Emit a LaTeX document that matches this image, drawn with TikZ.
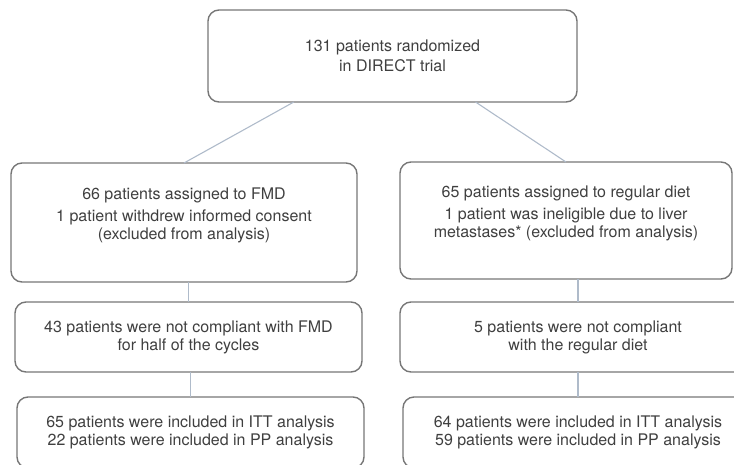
\documentclass[tikz,border=0pt]{standalone}
\usepackage{fontspec}
\setmainfont{TeX Gyre Heros}
\usepackage{xcolor}
\usetikzlibrary{positioning}

\definecolor{boxgray}{HTML}{767676}
\definecolor{textgray}{HTML}{3F3F3F}
\definecolor{linkblue}{HTML}{AFBBCA}

\begin{document}
\begin{tikzpicture}
[
x=1pt, y=1pt,
flow box/.style={rectangle,draw=boxgray,line width=1.4pt,rounded corners=11pt,align=center,
  text=textgray,font=\fontsize{16}{18}\selectfont,inner sep=0pt,outer sep=0pt},
flow midbox/.style={flow box,text depth=18pt},
flow link/.style={draw=linkblue,line width=1.1pt}
]
\useasboundingbox (0,0) rectangle (734,-464);

% randomization
\node[flow box, minimum width=369pt, minimum height=92pt] (top) at (392.5,-56)
  {131 patients randomized\\[2pt]in DIRECT trial};

% arms
\node[flow midbox, minimum width=346pt, minimum height=119pt] (fmd) at (184,-222.5)
  {66 patients assigned to FMD\\[4pt]1 patient withdrew informed consent\\(excluded from analysis)};
\node[flow midbox, minimum width=332pt, minimum height=117pt] (diet) at (566,-220.5)
  {65 patients assigned to regular diet\\[4pt]1 patient was ineligible due to liver\\metastases* (excluded from analysis)};

% compliance
\node[flow box, minimum width=347pt, minimum height=70pt, below=20pt of fmd, xshift=4.5pt] (fmdnc)
  {43 patients were not compliant with FMD\\for half of the cycles};
\node[flow box, minimum width=356pt, minimum height=70pt, below=23pt of diet, xshift=12pt] (dietnc)
  {5 patients were not compliant\\with the regular diet};

% analysis
\node[flow box, minimum width=347pt, minimum height=71pt, below=25pt of fmdnc, xshift=2pt] (fmdan)
  {65 patients were included in ITT analysis\\22 patients were included in PP analysis};
\node[flow box, minimum width=350pt, minimum height=71pt, below=25pt of dietnc] (dietan)
  {64 patients were included in ITT analysis\\59 patients were included in PP analysis};

% links
\draw[flow link] (top.205.7) -- (fmd.north);
\draw[flow link] (top.331.7) -- (diet.north);
\draw[flow link] (fmdnc.north |- fmd.south) -- (fmdnc.north);
\draw[flow link] (fmdan.north |- fmdnc.south) -- (fmdan.north);
\draw[flow link] (dietnc.north |- diet.south) -- (dietnc.north);
\draw[flow link] (dietnc.south) -- (dietan.north);

\end{tikzpicture}
\end{document}
